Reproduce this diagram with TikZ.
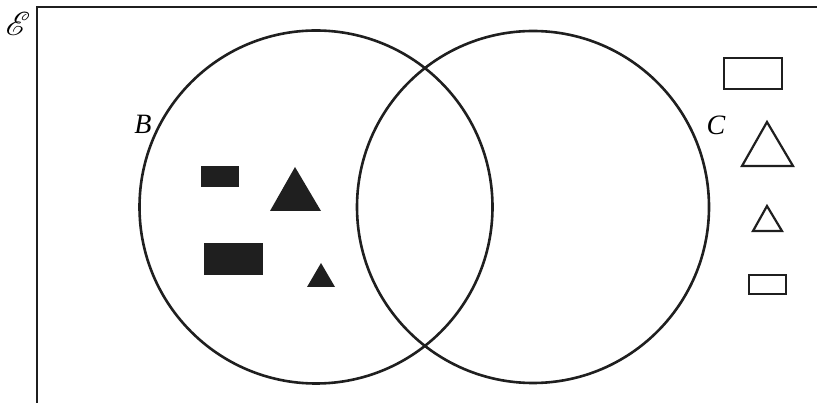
\documentclass[tikz,border=0pt]{standalone}
\usepackage{mathrsfs}
\usepackage{fontspec}
\setmainfont{Liberation Serif}
\begin{document}
\begin{tikzpicture}[x=1pt, y=-1pt, line width=2pt,
    solid shape/.style={fill=black!88, draw=none},
    open shape/.style={draw=black!88, line width=2.2pt, line join=miter},
    set label/.style={font=\fontsize{28}{30}\selectfont\itshape, inner sep=0pt}]
    \useasboundingbox (0,0) rectangle (817,403);
    % universal set frame
    \draw[black!88, line width=2.4pt] (37,403) -- (37,7) -- (817,7);
    \node[inner sep=0pt, font=\huge, scale=1.6] (univ) at (18,24) {$\mathscr{E}$};
    % the two sets
    \draw[black!88, line width=2.6pt] (316,207) circle (176.5);
    \draw[black!88, line width=2.6pt] (533,207) circle (176);
    \node[set label] (labB) at (143,124) {B};
    \node[set label] (labC) at (716,125) {C};
    % elements of B
    \fill[solid shape] (201,166) rectangle (239,187);
    \fill[solid shape] (295,167) -- (321,211) -- (270,211) -- cycle;
    \fill[solid shape] (204,243) rectangle (263,275);
    \fill[solid shape] (321,263) -- (335,287) -- (307,287) -- cycle;
    % elements outside B and C
    \draw[open shape] (724,58) rectangle (782,89);
    \draw[open shape] (767,122) -- (793,166) -- (742,166) -- cycle;
    \draw[open shape] (767,206) -- (782,231) -- (753,231) -- cycle;
    \draw[open shape] (749,275) rectangle (786,294);
\end{tikzpicture}
\end{document}
